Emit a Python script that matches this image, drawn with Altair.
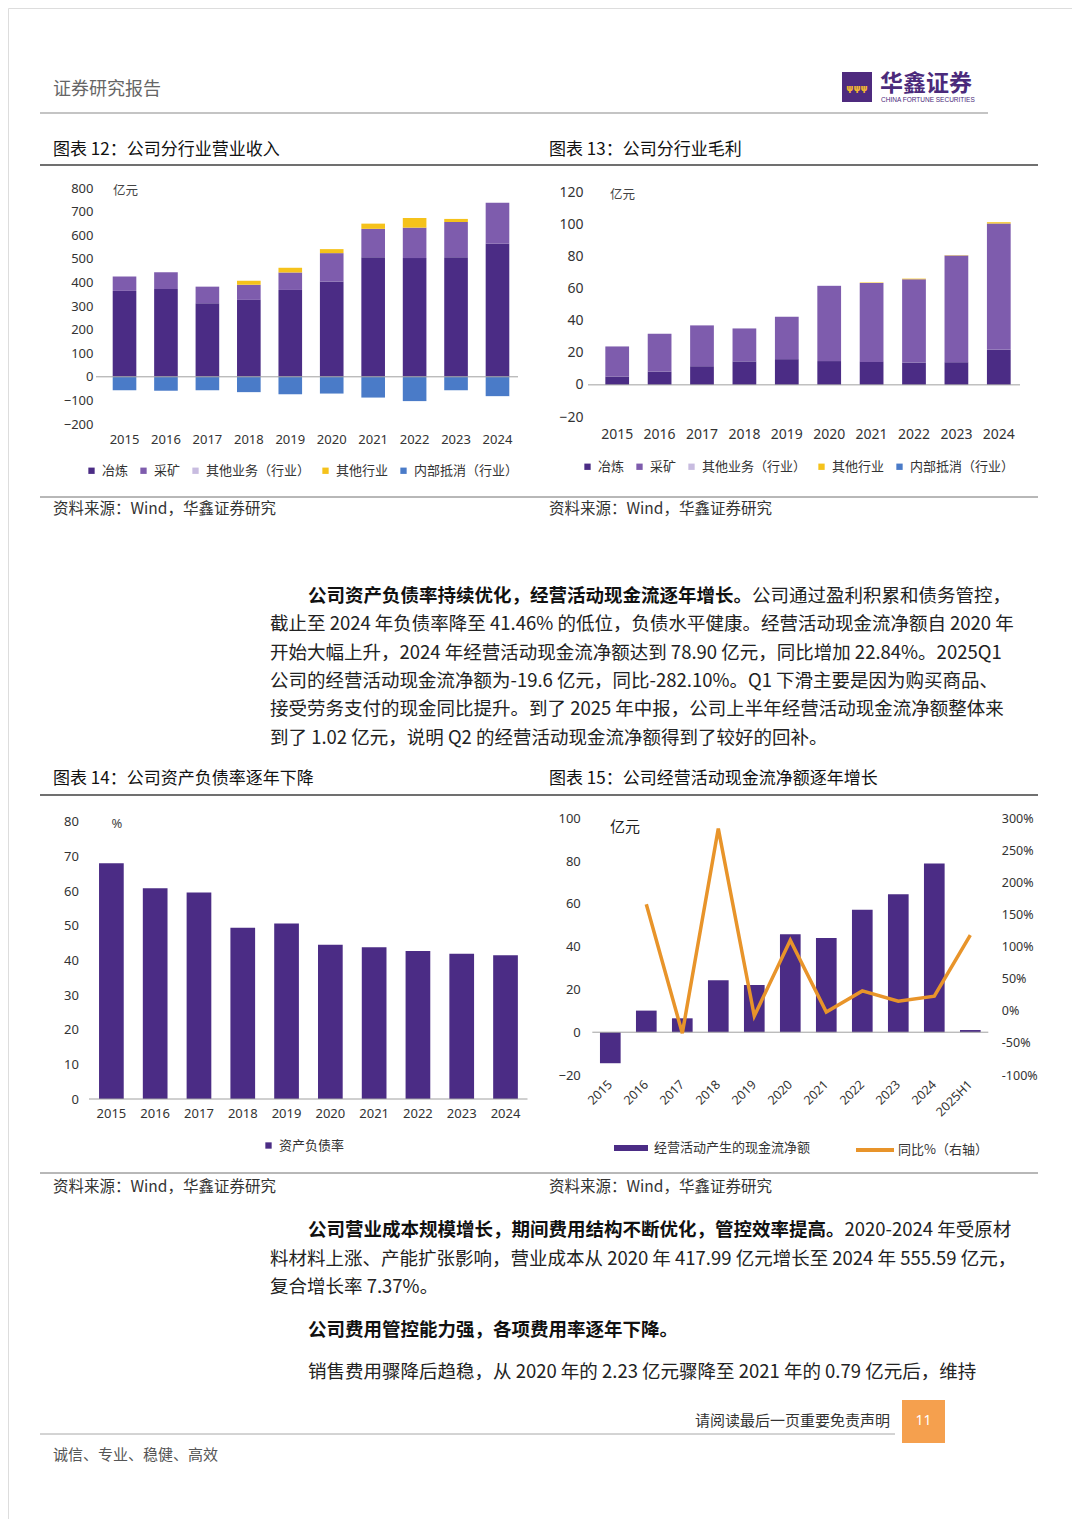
import altair as alt
import pandas as pd

# ---------------- data ----------------
years = ["2015", "2016", "2017", "2018", "2019", "2020", "2021", "2022", "2023", "2024"]
segments = ["冶炼", "采矿", "其他业务（行业）", "其他行业", "内部抵消（行业）"]
seg_colors = ["#4b2c85", "#7e5cad", "#c8bce0", "#f5c21b", "#4a7bc8"]

# 图表12 公司分行业营业收入（亿元）
rev_smelting = [364, 372, 312, 326, 368, 404, 507, 503, 507, 564]
rev_mining = [61, 71, 70, 64, 74, 120, 120, 129, 149, 173]
rev_other_business = [0, 0, 0, 0, 0, 0, 0, 0, 0, 0]
rev_other_industry = [0, 0, 0, 17, 20, 17, 22, 41, 13, 0]
rev_elimination = [-57, -59, -57, -65, -74, -71, -88, -103, -57, -82]

# 图表13 公司分行业毛利（亿元）
gp_smelting = [5.2, 8.3, 11.6, 14.6, 16.0, 14.8, 14.3, 13.9, 14.1, 21.8]
gp_mining = [18.7, 23.5, 25.4, 20.5, 26.4, 46.7, 49.1, 51.8, 66.4, 78.6]
gp_other_business = [0, 0, 0, 0, 0, 0.3, 0, 0, 0, 0]
gp_other_industry = [0, 0, 0, 0, 0, 0, 0.3, 0.4, 0.2, 0.8]
gp_elimination = [0, 0, 0, 0, 0, 0, 0, 0, 0, 0]

# 图表14 资产负债率（%）
debt_ratio = [68.0, 60.8, 59.6, 49.4, 50.6, 44.5, 43.8, 42.7, 41.9, 41.46]

# 图表15 经营活动现金流净额（亿元）与同比（%）
cf_periods = years + ["2025H1"]
cf_net = [-14.5, 10.1, 6.5, 24.3, 22.1, 45.8, 44.1, 57.2, 64.5, 78.90, 1.02]
cf_yoy = [None, 166, -35, 284, -8, 110, -2, 31, 15, 22.84, 118]

# ---------------- helpers ----------------
W, H = 1064, 1511
CJK = "Noto Sans CJK SC"
NUM = "Noto Sans"
PURPLE = "#4b2c85"
ORANGE = "#e8942a"


def P(v):
    return v - 8


one = pd.DataFrame({"k": [0]})


def txt(s, x, y, size=14, color="#222", weight="normal", align="left", font=CJK, baseline="middle"):
    return alt.Chart(one).mark_text(
        text=s, align=align, baseline=baseline, font=font, fontSize=size,
        fontWeight=weight, color=color
    ).encode(x=alt.value(P(x)), y=alt.value(P(y)))


def hline(x1, x2, y, color="#888", width=1.0):
    return alt.Chart(one).mark_rule(color=color, strokeWidth=width).encode(
        x=alt.value(P(x1)), x2=alt.value(P(x2)), y=alt.value(P(y)))


def box(x1, y1, x2, y2, color):
    return alt.Chart(one).mark_rect(color=color).encode(
        x=alt.value(P(x1)), x2=alt.value(P(x2)), y=alt.value(P(y1)), y2=alt.value(P(y2)))


def ax(orient, offset, pad, size=13, **kw):
    return alt.Axis(orient=orient, offset=offset, labelPadding=pad, domain=False, ticks=False,
                    tickSize=0, grid=False, title=None, labelFont=NUM, labelFontSize=size,
                    labelColor="#333", **kw)


def leg(x, y, cols, size=13, gap=8, half=7, **kw):
    opts = dict(orient="none", legendX=P(x), legendY=P(y) - half, direction="horizontal",
                columns=cols, title=None, labelFont=CJK, labelFontSize=size, labelColor="#333",
                columnPadding=gap, labelOffset=4, padding=0)
    opts.update(kw)
    return alt.Legend(**opts)


def stacked_panel(parts, left, right, top, bottom, ydom, yvals, pi, po,
                  xpad, ypad, xsize, ysize, lx, ly, lgap):
    rows = []
    for k, (name, vals) in enumerate(zip(segments, parts)):
        for yr, v in zip(years, vals):
            rows.append({"year": yr, "segment": name, "value": v, "rank": k})
    df = pd.DataFrame(rows)
    yscale = alt.Scale(domain=ydom, range=[P(bottom), P(top)], nice=False, zero=False)
    xscale = alt.Scale(domain=years, range=[P(left), P(right)], paddingInner=pi, paddingOuter=po)
    bars = alt.Chart(df).mark_bar().encode(
        x=alt.X("year:N", scale=xscale, axis=ax("bottom", P(bottom) - H, xpad, xsize, labelAngle=0)),
        y=alt.Y("value:Q", stack="zero", scale=yscale,
                axis=ax("left", -P(left), ypad, ysize, values=yvals)),
        color=alt.Color("segment:N", scale=alt.Scale(domain=segments, range=seg_colors),
                        legend=leg(lx, ly, 5, size=13, gap=lgap, symbolType="square",
                                   symbolSize=40, symbolStrokeWidth=0)),
        order=alt.Order("rank:Q", sort="ascending"),
    )
    zero = alt.Chart(one).mark_rule(color="#a0a0a0", strokeWidth=1).encode(
        y=alt.Y(datum=0, scale=yscale, axis=None),
        x=alt.value(P(left) - 8), x2=alt.value(P(right)))
    return alt.layer(bars, zero).resolve_axis(y="independent")


# ---------------- chart 12 ----------------
c12 = stacked_panel([rev_smelting, rev_mining, rev_other_business, rev_other_industry, rev_elimination],
                    left=104, right=518, top=188, bottom=424, ydom=[-200, 800],
                    yvals=list(range(-200, 801, 100)), pi=0.43, po=0.21,
                    xpad=9, ypad=11, xsize=13, ysize=13, lx=85, ly=471, lgap=8)

# ---------------- chart 13 ----------------
c13 = stacked_panel([gp_smelting, gp_mining, gp_other_business, gp_other_industry, gp_elimination],
                    left=596, right=1020, top=192, bottom=417, ydom=[-20, 120],
                    yvals=list(range(-20, 121, 20)), pi=0.44, po=0.22,
                    xpad=10, ypad=13, xsize=14, ysize=14, lx=581, ly=467, lgap=8)

# ---------------- chart 14 ----------------
df14 = pd.DataFrame({"year": years, "ratio": debt_ratio, "s": ["资产负债率"] * len(years)})
y14 = alt.Scale(domain=[0, 80], range=[P(1099), P(821.7)], nice=False, zero=False)
bars14 = alt.Chart(df14).mark_bar().encode(
    x=alt.X("year:N", scale=alt.Scale(domain=years, range=[P(89.4), P(527.5)],
                                      paddingInner=0.436, paddingOuter=0.22),
            axis=ax("bottom", P(1099) - H, 8, 13, labelAngle=0)),
    y=alt.Y("ratio:Q", scale=y14, axis=ax("left", -P(89.4), 11, 13, values=list(range(0, 81, 10)))),
    color=alt.Color("s:N", scale=alt.Scale(range=[PURPLE]),
                    legend=leg(262, 1146, 1, size=13, symbolType="square", symbolSize=40,
                               symbolStrokeWidth=0)),
)
zero14 = alt.Chart(one).mark_rule(color="#a0a0a0", strokeWidth=1).encode(
    y=alt.Y(datum=0, scale=y14, axis=None), x=alt.value(P(89)), x2=alt.value(P(527.5)))
c14 = alt.layer(bars14, zero14).resolve_axis(y="independent")

# ---------------- chart 15 ----------------
df15 = pd.DataFrame({"period": cf_periods, "cf": cf_net, "yoy": cf_yoy,
                     "s1": ["经营活动产生的现金流净额"] * len(cf_periods),
                     "s2": ["同比%（右轴）"] * len(cf_periods)})
x15 = alt.X("period:N",
            scale=alt.Scale(domain=cf_periods, range=[P(592.3), P(988.3)],
                            paddingInner=0.426, paddingOuter=0.213),
            axis=ax("bottom", P(1075) - H, 7, 12.5, labelAngle=315, labelAlign="right",
                    labelBaseline="middle"))
y15 = alt.Scale(domain=[-20, 100], range=[P(1075), P(818.3)], nice=False, zero=False)
bars15 = alt.Chart(df15).mark_bar().encode(
    x=x15,
    y=alt.Y("cf:Q", scale=y15, axis=ax("left", -P(592.3), 12, 13, values=list(range(-20, 101, 20)))),
    color=alt.Color("s1:N", scale=alt.Scale(range=[PURPLE]),
                    legend=leg(614, 1148, 1, size=13, half=17, symbolType="M-1,-0.18H1V0.18H-1Z",
                               symbolSize=1156, symbolStrokeWidth=0, labelOffset=6)),
)
line15 = alt.Chart(df15).mark_line(strokeWidth=3.5).encode(
    x=x15,
    y=alt.Y("yoy:Q", scale=alt.Scale(domain=[-100, 300], range=[P(1075), P(818.3)], nice=False, zero=False),
            axis=ax("right", P(988.3) - W, 13, 12.5, values=list(range(-100, 301, 50)),
                    labelExpr="datum.value + '%'")),
    color=alt.Color("s2:N", scale=alt.Scale(range=[ORANGE]),
                    legend=leg(854, 1148, 1, size=13, half=19, symbolType="stroke", symbolSize=1444,
                               symbolStrokeWidth=4, labelOffset=2)),
)
zero15 = alt.Chart(one).mark_rule(color="#a0a0a0", strokeWidth=1).encode(
    y=alt.Y(datum=0, scale=y15, axis=None), x=alt.value(P(592.3)), x2=alt.value(P(988.3)))
c15 = alt.layer(bars15, zero15, line15).resolve_scale(y="independent", color="independent")

# ---------------- page text / decoration ----------------
fs = 18.5
deco = [
    # header
    txt("证券研究报告", 53, 90, size=18, color="#666"),
    box(842, 72, 872, 102, "#4e2a7e"),
    txt("ψψψ", 857, 88, size=9, color="#f2b630", align="center", weight="bold", font="DejaVu Sans"),
    txt("华鑫证券", 880, 84, size=23, color="#4b2a7b", weight="bold"),
    txt("CHINA FORTUNE SECURITIES", 881, 99.5, size=6.5, color="#4b2a7b",
        font="Liberation Sans Narrow, Liberation Sans"),
    hline(40, 988, 113, "#b0b0b0", 1.5),
    # titles 12/13
    txt("图表 12：公司分行业营业收入", 53, 150, size=17, color="#111"),
    txt("图表 13：公司分行业毛利", 549, 150, size=17, color="#111"),
    hline(40, 1038, 165, "#707070", 2),
    txt("亿元", 113, 191, size=12.5, color="#444"),
    txt("亿元", 610, 195, size=12.5, color="#444"),
    hline(40, 1038, 497, "#707070", 1),
    txt("资料来源：Wind，华鑫证券研究", 53, 509, size=15.5, color="#333"),
    txt("资料来源：Wind，华鑫证券研究", 549, 509, size=15.5, color="#333"),
    # paragraph 1
    txt("公司资产负债率持续优化，经营活动现金流逐年增长。", 308, 596, size=fs, color="#111", weight="bold"),
    txt("公司通过盈利积累和债务管控，", 308 + 24 * fs, 596, size=fs, color="#222"),
    txt("截止至 2024 年负债率降至 41.46% 的低位，负债水平健康。经营活动现金流净额自 2020 年", 270, 624, size=fs, color="#222"),
    txt("开始大幅上升，2024 年经营活动现金流净额达到 78.90 亿元，同比增加 22.84%。2025Q1", 270, 653, size=fs, color="#222"),
    txt("公司的经营活动现金流净额为-19.6 亿元，同比-282.10%。Q1 下滑主要是因为购买商品、", 270, 681, size=fs, color="#222"),
    txt("接受劳务支付的现金同比提升。到了 2025 年中报，公司上半年经营活动现金流净额整体来", 270, 709, size=fs, color="#222"),
    txt("到了 1.02 亿元，说明 Q2 的经营活动现金流净额得到了较好的回补。", 270, 738, size=fs, color="#222"),
    # titles 14/15
    txt("图表 14：公司资产负债率逐年下降", 53, 779, size=17, color="#111"),
    txt("图表 15：公司经营活动现金流净额逐年增长", 549, 779, size=17, color="#111"),
    hline(40, 1038, 795, "#707070", 2),
    txt("%", 117, 824, size=13, color="#444", font=NUM, align="center"),
    txt("亿元", 610, 827, size=15, color="#222"),
    hline(40, 1038, 1173, "#707070", 1),
    txt("资料来源：Wind，华鑫证券研究", 53, 1187, size=15.5, color="#333"),
    txt("资料来源：Wind，华鑫证券研究", 549, 1187, size=15.5, color="#333"),
    # paragraph 2
    txt("公司营业成本规模增长，期间费用结构不断优化，管控效率提高。", 308, 1230, size=fs, color="#111", weight="bold"),
    txt("2020-2024 年受原材", 308 + 29 * fs, 1230, size=fs, color="#222"),
    txt("料材料上涨、产能扩张影响，营业成本从 2020 年 417.99 亿元增长至 2024 年 555.59 亿元，", 270, 1259, size=fs, color="#222"),
    txt("复合增长率 7.37%。", 270, 1287, size=fs, color="#222"),
    txt("公司费用管控能力强，各项费用率逐年下降。", 308, 1330, size=fs, color="#111", weight="bold"),
    txt("销售费用骤降后趋稳，从 2020 年的 2.23 亿元骤降至 2021 年的 0.79 亿元后，维持", 308, 1372, size=fs, color="#222"),
    # footer
    txt("请阅读最后一页重要免责声明", 890, 1421, size=15, color="#333", align="right"),
    hline(40, 895, 1434, "#a8a8a8", 1),
    box(902, 1400, 945, 1443, "#f5a04e"),
    txt("11", 923.5, 1421, size=14, color="#ffffff", align="center", font=NUM),
    txt("诚信、专业、稳健、高效", 53, 1455, size=15, color="#555"),
]

chart = (
    alt.layer(c12, c13, c14, c15, *deco)
    .resolve_scale(x="independent", y="independent", color="independent")
    .properties(width=W, height=H, padding=0)
    .configure_view(stroke="transparent", strokeWidth=0, fill="white")
    .configure(background="white")
)

chart.save("out.html", embed_options={"renderer": "svg", "actions": False})
